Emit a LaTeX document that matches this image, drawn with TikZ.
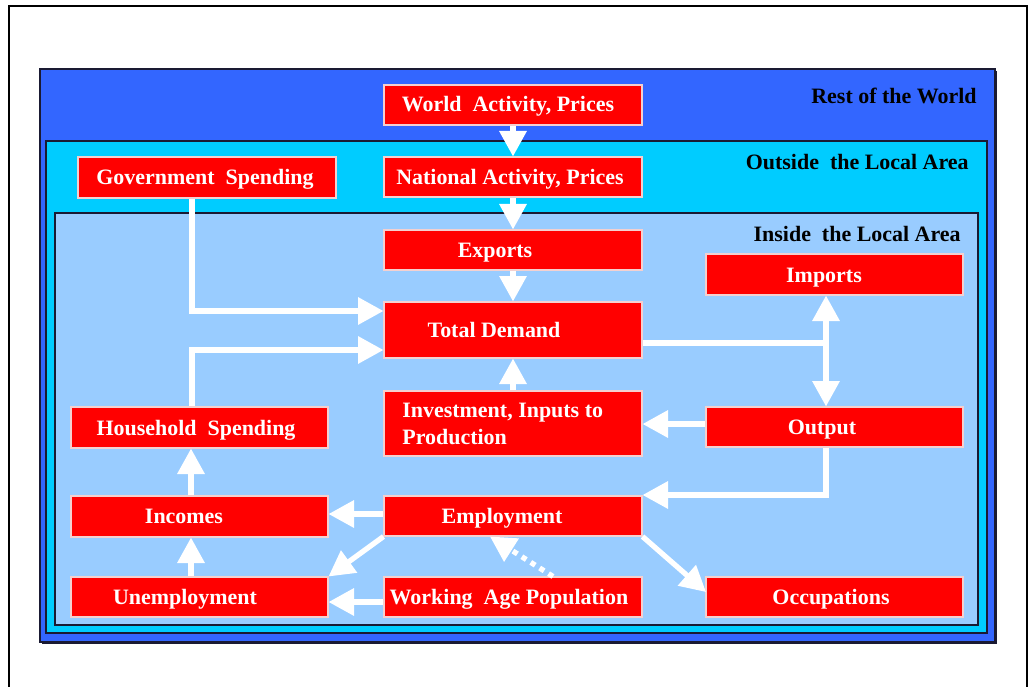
\documentclass[tikz,border=0pt]{standalone}
\usepackage{fontspec}
\setmainfont{Liberation Serif}
\usetikzlibrary{arrows.meta}
\definecolor{worldblue}{HTML}{3366FF}
\definecolor{outcyan}{HTML}{00CCFF}
\definecolor{inblue}{HTML}{99CCFF}
\definecolor{boxred}{HTML}{FF0000}
\definecolor{boxedge}{HTML}{F4D0D0}
\definecolor{areaedge}{HTML}{1A1A33}

% red box from its corner coordinates
\newcommand\redbox[5]{%
  \node[box, minimum width={(#4-#2)*0.02cm}, minimum height={(#5-#3)*0.02cm}]
    (#1) at ({(#2+#4)/2},{(#3+#5)/2}) {};}

\begin{document}
\begin{tikzpicture}[x=0.02cm,y=-0.02cm,
  box/.style={draw=boxedge, line width=0.6pt, fill=boxred, inner sep=0pt},
  txt/.style={font=\fontsize{12.5}{15}\selectfont\bfseries, inner sep=0pt},
  lbl/.style={txt, text=white, text height=8.2pt, text depth=0pt},
  area/.style={txt, anchor=east, text height=8.2pt, text depth=0pt},
  zone/.style={draw=areaedge, line width=0.8pt},
  flow/.style={draw=white, line width=3pt, -{Triangle[length=14.5pt,width=15pt]}},
  link/.style={draw=white, line width=3pt},
  hint/.style={flow, dash pattern=on 3pt off 3pt},
]
\useasboundingbox (0,0) rectangle (1030,686);

% page frame
\draw[line width=1.2pt] (9,690) -- (9,6) -- (1027,6) -- (1027,690);

% nested areas
\fill[areaedge] (42,71) rectangle (997,644);
\draw[zone, fill=worldblue] (40,69) rectangle (995,642);
\draw[zone, fill=outcyan] (46,141) rectangle (987,633);
\draw[zone, fill=inblue] (55,213) rectangle (978,625);

\node[area] (rest) at (977,96) {Rest of the World};
\node[area] (outside) at (969,162) {Outside\ \ the Local Area};
\node[area] (inside) at (961,234) {Inside\ \ the Local Area};

% boxes
\redbox{world}{384}{85}{642}{125}
\redbox{national}{384}{157}{642}{197}
\redbox{gov}{78}{157}{336}{198}
\redbox{exports}{384}{230}{642}{270}
\redbox{demand}{384}{302}{642}{358}
\redbox{imports}{706}{254}{963}{295}
\redbox{invest}{384}{391}{642}{456}
\redbox{output}{706}{407}{963}{447}
\redbox{house}{71}{407}{328}{448}
\redbox{incomes}{71}{496}{328}{537}
\redbox{employ}{384}{496}{642}{536}
\redbox{unemp}{71}{577}{328}{617}
\redbox{working}{384}{577}{642}{617}
\redbox{occup}{706}{577}{963}{617}

% box texts
\node[lbl] (world-t) at (508,104) {World\ \ Activity, Prices};
\node[lbl] (national-t) at (510,177) {National Activity, Prices};
\node[lbl] (gov-t) at (205,177) {Government\ \ Spending};
\node[lbl] (exports-t) at (495,250) {Exports};
\node[lbl] (demand-t) at (494,330) {Total Demand};
\node[lbl] (imports-t) at (824,275) {Imports};
\node[txt, text=white, anchor=west, align=left] (invest-t) at (402,424) {Investment, Inputs to\\Production};
\node[lbl] (output-t) at (822,427) {Output};
\node[lbl] (house-t) at (196,428) {Household\ \ Spending};
\node[lbl] (incomes-t) at (184,516) {Incomes};
\node[lbl] (employ-t) at (502,516) {Employment};
\node[lbl] (unemp-t) at (185,597) {Unemployment};
\node[lbl] (working-t) at (509,597) {Working\ \ Age Population};
\node[lbl] (occup-t) at (831,597) {Occupations};

% connector ports and bends
\coordinate (govbend) at (192,311);
\coordinate (housebend) at (192,350);
\coordinate (split) at (826,343);
\coordinate (outinv) at (0,424);
\coordinate (outemp) at (826,495);
\coordinate (empinc) at (0,514);
\coordinate (workunemp) at (0,602);
\coordinate (workfrom) at (553,0);
\coordinate (empto) at (490,0);
\coordinate (occin) at (706,592);
\coordinate (leftcol) at (191,0);

% connectors
\draw[flow] (world.south) -- (national.north);
\draw[flow] (national.south) -- (exports.north);
\draw[flow] (exports.south) -- (demand.north);
\draw[flow] (invest.north) -- (demand.south);
\draw[flow] (gov.south -| govbend) |- (demand.west |- govbend);
\draw[flow] (house.north -| housebend) |- (demand.west |- housebend);
\draw[link] (demand.east |- split) -- (split);
\draw[flow] (split) -- (imports.south -| split);
\draw[flow] (split) -- (output.north -| split);
\draw[flow] (output.west |- outinv) -- (invest.east |- outinv);
\draw[flow] (output.south -| outemp) |- (employ.east |- outemp);
\draw[flow] (employ.west |- empinc) -- (incomes.east |- empinc);
\draw[flow] (employ.south west) -- (unemp.north east);
\draw[flow] (working.west |- workunemp) -- (unemp.east |- workunemp);
\draw[hint] (working.north -| workfrom) -- (employ.south -| empto);
\draw[flow] (employ.south east) -- (occin);
\draw[flow] (incomes.north -| leftcol) -- (house.south -| leftcol);
\draw[flow] (unemp.north -| leftcol) -- (incomes.south -| leftcol);
\end{tikzpicture}
\end{document}
